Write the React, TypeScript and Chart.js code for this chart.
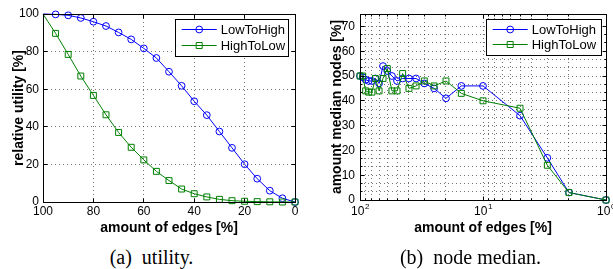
import React, { useEffect, useRef } from 'react';
import { Chart, registerables } from 'chart.js';

Chart.register(...registerables);

// ---------- data: (a) utility ----------
const leftEdges = [100, 95, 90, 85, 80, 75, 70, 65, 60, 55, 50, 45, 40, 35, 30, 25, 20, 15, 10, 5, 0];
const leftLowToHigh = [100, 99.8, 99.3, 97.9, 95.9, 93.6, 90.2, 86.5, 81.7, 76.6, 69.3, 61.8, 53.6, 46.2, 37.5, 28.8, 20.1, 12.4, 6.0, 2.0, 0];
const leftHighToLow = [100, 89.7, 78.5, 67.0, 56.7, 46.4, 37.0, 29.1, 22.4, 16.3, 11.4, 6.9, 4.4, 2.7, 1.4, 0.7, 0.4, 0.2, 0.1, 0, 0];
const leftXTicks = [0, 20, 40, 60, 80, 100];
const leftYTicks = [0, 20, 40, 60, 80, 100];

// ---------- data: (b) node median ----------
const rightEdges = [100, 95, 90, 85, 80, 75, 70, 65, 60, 55, 50, 45, 40, 35, 30, 25, 20, 15, 10, 5, 3, 2, 1];
const rightLowToHigh = [50, 49.5, 48.5, 48, 48, 49, 47, 54, 52, 50, 48, 49, 49, 49, 47, 45, 41, 46, 46, 34, 17, 3, 0];
const rightHighToLow = [50, 50, 44, 43.5, 43.5, 49, 44, 49, 53, 44, 44, 51, 45, 46, 48, 46, 48, 43, 40, 37, 14, 3, 0];
const rightYTicks = [0, 10, 20, 30, 40, 50, 60, 70];
const rightXDecades = [100, 10, 1];
const rightXExponents = ['2', '1', '0'];

const seriesNames = ['LowToHigh', 'HighToLow'];
const BLUE = '#0000ff';
const GREEN = '#008000';

// grid positions derived from the tick lists
const rightYGrid: number[] = [];
rightYTicks.forEach((t, i) => {
  rightYGrid.push(t);
  if (i < rightYTicks.length - 1) {
    const step = rightYTicks[i + 1] - t;
    rightYGrid.push(t + step / 3, t + (2 * step) / 3);
  }
});
const rightXGrid: number[] = [];
[1, 10].forEach((d) => {
  for (let m = 1; m <= 9; m++) rightXGrid.push(d * m);
});
rightXGrid.push(100);

const SANS = '"Liberation Sans", Arial, Helvetica, sans-serif';
const GRID_COLOR = 'rgba(0,0,0,0.55)';

const al = (p: number) => Math.round(p - 0.5) + 0.5;

type LegendBox = { x: number; y: number; w: number; h: number; rows: number[] };

function makePlugin(cfg: {
  legend: LegendBox;
  xMajor: number[];
  yMajor: number[];
  logLabels?: { values: number[]; exps: string[] };
}) {
  return {
    id: 'matlabLook',
    afterDatasetsDraw(chart: any) {
      const { ctx, chartArea: a, scales } = chart;
      const xs = scales.x;
      const ys = scales.y;
      const L = al(a.left), R = al(a.right), T = al(a.top), B = al(a.bottom);
      ctx.save();
      ctx.setLineDash([]);
      ctx.strokeStyle = '#000';
      ctx.lineWidth = 1;
      ctx.beginPath();
      xs.ticks.forEach((t: any) => {
        const px = al(xs.getPixelForValue(t.value));
        const len = cfg.xMajor.includes(t.value) ? 4 : 2;
        ctx.moveTo(px, B);
        ctx.lineTo(px, B - len);
        ctx.moveTo(px, T);
        ctx.lineTo(px, T + len);
      });
      ys.ticks.forEach((t: any) => {
        const py = al(ys.getPixelForValue(t.value));
        const len = cfg.yMajor.includes(t.value) ? 4 : 2;
        ctx.moveTo(L, py);
        ctx.lineTo(L + len, py);
        ctx.moveTo(R, py);
        ctx.lineTo(R - len, py);
      });
      ctx.stroke();
      ctx.strokeRect(L, T, R - L, B - T);
      ctx.restore();
    },
    afterDraw(chart: any) {
      const { ctx, chartArea: a, scales } = chart;
      ctx.save();
      // legend
      const lg = cfg.legend;
      ctx.fillStyle = '#fff';
      ctx.fillRect(lg.x, lg.y, lg.w, lg.h);
      ctx.strokeStyle = '#000';
      ctx.lineWidth = 1;
      ctx.setLineDash([]);
      ctx.strokeRect(al(lg.x), al(lg.y), Math.round(lg.w), Math.round(lg.h));
      chart.data.datasets.forEach((ds: any, i: number) => {
        const y = al(lg.y + lg.rows[i]);
        const x0 = lg.x + 6, x1 = lg.x + 41, xm = (x0 + x1) / 2;
        ctx.strokeStyle = ds.borderColor;
        ctx.lineWidth = 1;
        ctx.beginPath();
        ctx.moveTo(x0, y);
        ctx.lineTo(x1, y);
        ctx.stroke();
        ctx.beginPath();
        if (ds.pointStyle === 'rect') {
          ctx.rect(xm - 3, y - 3, 6, 6);
        } else {
          ctx.arc(xm, y, 3.4, 0, Math.PI * 2);
        }
        ctx.stroke();
        ctx.fillStyle = '#000';
        ctx.font = `13px ${SANS}`;
        ctx.textBaseline = 'middle';
        ctx.textAlign = 'left';
        ctx.fillText(ds.label, lg.x + 45, y + 0.5);
      });
      // log tick labels with exponents
      if (cfg.logLabels) {
        const xs = scales.x;
        cfg.logLabels.values.forEach((v, i) => {
          const px = xs.getPixelForValue(v);
          ctx.font = `12px ${SANS}`;
          const wBase = ctx.measureText('10').width;
          ctx.font = `8px ${SANS}`;
          const wExp = ctx.measureText(cfg.logLabels!.exps[i]).width;
          const start = px - (wBase + wExp) / 2;
          ctx.fillStyle = '#000';
          ctx.textAlign = 'left';
          ctx.textBaseline = 'top';
          ctx.font = `12px ${SANS}`;
          ctx.fillText('10', start, a.bottom + 6);
          ctx.font = `8px ${SANS}`;
          ctx.fillText(cfg.logLabels!.exps[i], start + wBase + 0.5, a.bottom + 3);
        });
      }
      ctx.restore();
    },
  };
}

function dataset(label: string, xs: number[], ys: number[], color: string, style: string, radius: number, hideFirst: boolean, order: number) {
  return {
    label,
    data: xs.map((x, i) => ({ x, y: ys[i] })),
    borderColor: color,
    backgroundColor: 'rgba(0,0,0,0)',
    borderWidth: 1,
    pointStyle: style,
    pointRadius: xs.map((_, i) => (hideFirst && i === 0 ? 0 : radius)),
    pointBorderWidth: 1,
    pointBorderColor: color,
    pointBackgroundColor: 'rgba(0,0,0,0)',
    tension: 0,
    clip: false as any,
    order,
  };
}

function leftConfig(): any {
  return {
    type: 'line',
    data: {
      datasets: [
        dataset(seriesNames[0], leftEdges, leftLowToHigh, BLUE, 'circle', 3.4, true, 1),
        dataset(seriesNames[1], leftEdges, leftHighToLow, GREEN, 'rect', 4.2, true, 0),
      ],
    },
    options: {
      responsive: false,
      animation: false,
      events: [],
      layout: { padding: { top: 14, right: 11, bottom: 0, left: 0 } },
      plugins: { legend: { display: false }, tooltip: { enabled: false } },
      scales: {
        x: {
          type: 'linear',
          min: 0,
          max: 100,
          reverse: true,
          afterBuildTicks: (s: any) => {
            s.ticks = leftXTicks.map((v) => ({ value: v }));
          },
          afterFit: (s: any) => {
            s.height = 38;
            s.paddingLeft = 0;
            s.paddingRight = 0;
          },
          grid: { color: GRID_COLOR, lineWidth: 1, drawTicks: false },
          border: { display: false, dash: [1, 3] },
          ticks: { color: '#000', font: { family: SANS, size: 12 }, padding: 2, maxRotation: 0, autoSkip: false },
          title: {
            display: true,
            text: 'amount of edges [%]',
            color: '#000',
            font: { family: SANS, size: 14, weight: 'bold' },
            padding: { top: 0, bottom: 3.6 },
          },
        },
        y: {
          type: 'linear',
          min: 0,
          max: 100,
          afterBuildTicks: (s: any) => {
            s.ticks = leftYTicks.map((v) => ({ value: v }));
          },
          afterFit: (s: any) => {
            s.width = 43;
            s.paddingTop = 0;
            s.paddingBottom = 0;
          },
          grid: { color: GRID_COLOR, lineWidth: 1, drawTicks: false },
          border: { display: false, dash: [1, 3] },
          ticks: { color: '#000', font: { family: SANS, size: 12 }, padding: 4, autoSkip: false },
          title: {
            display: true,
            text: 'relative utility [%]',
            color: '#000',
            font: { family: SANS, size: 14, weight: 'bold' },
            padding: { top: 10.4, bottom: 0 },
          },
        },
      },
    },
    plugins: [
      makePlugin({
        legend: { x: 175.7, y: 19.3, w: 113, h: 36.7, rows: [10, 26.5] },
        xMajor: leftXTicks,
        yMajor: leftYTicks,
      }),
    ],
  };
}

function rightConfig(): any {
  return {
    type: 'line',
    data: {
      datasets: [
        dataset(seriesNames[0], rightEdges, rightLowToHigh, BLUE, 'circle', 3.4, false, 1),
        dataset(seriesNames[1], rightEdges, rightHighToLow, GREEN, 'rect', 4.2, false, 0),
      ],
    },
    options: {
      responsive: false,
      animation: false,
      events: [],
      layout: { padding: { top: 14, right: 7, bottom: 0, left: 0 } },
      plugins: { legend: { display: false }, tooltip: { enabled: false } },
      scales: {
        x: {
          type: 'logarithmic',
          min: 1,
          max: 100,
          reverse: true,
          afterBuildTicks: (s: any) => {
            s.ticks = rightXGrid.map((v) => ({ value: v }));
          },
          afterFit: (s: any) => {
            s.height = 40;
            s.paddingLeft = 0;
            s.paddingRight = 0;
          },
          grid: { color: GRID_COLOR, lineWidth: 1, drawTicks: false },
          border: { display: false, dash: [1, 3] },
          ticks: { display: false, autoSkip: false },
          title: {
            display: true,
            text: 'amount of edges [%]',
            color: '#000',
            font: { family: SANS, size: 14, weight: 'bold' },
            padding: { top: 0, bottom: 3.6 },
          },
        },
        y: {
          type: 'linear',
          min: 0,
          max: 75,
          afterBuildTicks: (s: any) => {
            s.ticks = rightYGrid.map((v) => ({ value: v }));
          },
          afterFit: (s: any) => {
            s.width = 60;
            s.paddingTop = 0;
            s.paddingBottom = 0;
          },
          grid: { color: GRID_COLOR, lineWidth: 1, drawTicks: false },
          border: { display: false, dash: [1, 3] },
          ticks: {
            color: '#000',
            font: { family: SANS, size: 12 },
            padding: 5,
            autoSkip: false,
            callback: (v: number) => (rightYTicks.includes(v) ? String(v) : ''),
          },
          title: {
            display: true,
            text: 'amount median nodes [%]',
            color: '#000',
            font: { family: SANS, size: 14, weight: 'bold' },
            padding: { top: 28.3, bottom: 0 },
          },
        },
      },
    },
    plugins: [
      makePlugin({
        legend: { x: 186.7, y: 19.3, w: 115, h: 35.7, rows: [10, 25.5] },
        xMajor: rightXDecades,
        yMajor: rightYTicks,
        logLabels: { values: rightXDecades, exps: rightXExponents },
      }),
    ],
  };
}

export default function App() {
  const leftRef = useRef<HTMLCanvasElement>(null);
  const rightRef = useRef<HTMLCanvasElement>(null);

  useEffect(() => {
    const c1 = new Chart(leftRef.current!, leftConfig());
    const c2 = new Chart(rightRef.current!, rightConfig());
    return () => {
      c1.destroy();
      c2.destroy();
    };
  }, []);

  const caption: React.CSSProperties = {
    position: 'absolute',
    top: 246,
    width: 240,
    textAlign: 'center',
    fontFamily: '"Liberation Serif", "Times New Roman", serif',
    fontSize: 20,
    lineHeight: '22px',
    whiteSpace: 'pre',
    color: '#000',
  };

  return (
    <div style={{ position: 'absolute', left: 0, top: 0, width: 613, height: 269, background: '#fff', overflow: 'hidden' }}>
      <canvas ref={leftRef} width={306} height={240} style={{ position: 'absolute', left: 0, top: 0 }} />
      <canvas ref={rightRef} width={313} height={240} style={{ position: 'absolute', left: 300, top: 0 }} />
      <div style={{ ...caption, left: 151.5 - 120 }}>{'(a)  utility.'}</div>
      <div style={{ ...caption, left: 470.5 - 120 }}>{'(b)  node median.'}</div>
    </div>
  );
}
